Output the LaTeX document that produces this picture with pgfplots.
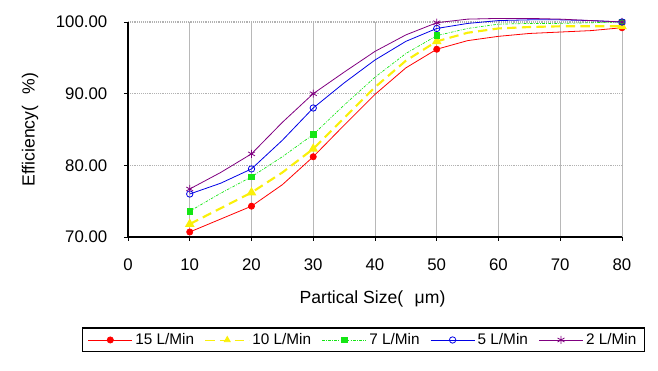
\documentclass[border=0pt]{standalone}
\usepackage{pgfplots}
\pgfplotsset{compat=1.18}
\usepackage{fontspec}
\setmainfont{Liberation Sans}
\definecolor{cred}{RGB}{255,0,0}
\definecolor{cyel}{RGB}{250,240,10}
\definecolor{cgrn}{RGB}{20,230,20}
\definecolor{cblu}{RGB}{0,0,230}
\definecolor{cpur}{RGB}{128,0,128}
\begin{document}
\begin{tikzpicture}
\useasboundingbox (0,0) rectangle (493.5pt,278.25pt);
\begin{axis}[
  scale only axis,
  width=370.5pt, height=161.25pt,
  at={(96pt,100.5pt)}, anchor=south west,
  xmin=0, xmax=80, ymin=70, ymax=100,
  clip=false,
  axis lines*=left,
  axis line style={black, line width=0.9pt},
  xtick={0,10,...,80},
  ytick={70,80,90,100},
  /pgf/number format/assume math mode=true,
  tick label style={font=\fontsize{12.6}{14}\selectfont},
  xticklabel style={yshift=-9.5pt},
  yticklabel style={xshift=-9pt, /pgf/number format/.cd, fixed, fixed zerofill, precision=2},
  label style={font=\fontsize{13.2}{15}\selectfont},
  tick align=outside,
  major tick length=3pt,
  tick style={black, line width=0.6pt},
  xmajorgrids, ymajorgrids,
  x grid style={black!28, line width=0.5pt},
  y grid style={black!30, densely dotted, line width=0.8pt},
  xlabel={Partical Size(\hspace{0.65em}μm)},
  ylabel={Efficiency(\hspace{0.65em}\%)},
  xlabel style={at={(axis description cs:0.495,-0.288)}, anchor=center},
  ylabel style={at={(axis description cs:-0.1984,0.5)}, anchor=center},
  legend columns=5,
  legend style={at={(0.4767,-0.479)}, anchor=center, draw=black, line width=0.9pt,
    font=\fontsize{11.5}{13}\selectfont, inner xsep=4pt, inner ysep=2pt,
    /tikz/every even column/.append style={column sep=6pt}},
  legend image code/.code={\draw[mark indices={2}, line width=0.6pt] plot coordinates {(0pt,0pt) (16.5pt,0pt) (33pt,0pt)};},
  every axis plot/.append style={mark indices={1,3,5,9,15}},
]
\addplot[cred, line width=0.6pt, mark=*, mark size=2.3pt] coordinates {
(10,70.7)(15,72.5)(20,74.3)(25,77.3)(30,81.2)(35,85.6)(40,89.9)(45,93.6)(50,96.2)(55,97.4)(60,98.0)(65,98.4)(70,98.6)(75,98.8)(80,99.2)};
\addlegendentry{15 L/Min}
\addplot[cyel, line width=1.6pt, dash pattern=on 7pt off 4pt, mark=triangle*, mark size=2.6pt, mark options={solid}] coordinates {
(10,71.8)(15,74.0)(20,76.2)(25,79.0)(30,82.3)(35,86.6)(40,90.9)(45,94.6)(50,97.3)(55,98.5)(60,99.1)(65,99.3)(70,99.4)(75,99.4)(80,99.4)};
\addlegendentry{10 L/Min}
\addplot[cgrn, line width=0.5pt, dash pattern=on 2pt off 1pt on 0.6pt off 1pt, mark=square*, mark size=2.1pt, mark options={solid}] coordinates {
(10,73.6)(15,76.1)(20,78.4)(25,81.2)(30,84.3)(35,88.4)(40,92.3)(45,95.6)(50,98.1)(55,99.1)(60,99.7)(65,99.8)(70,99.8)(75,99.9)(80,100.0)};
\addlegendentry{7 L/Min}
\addplot[cblu, line width=0.6pt, mark=o, mark size=2.4pt] coordinates {
(10,76.0)(15,77.5)(20,79.5)(25,83.5)(30,88.0)(35,91.5)(40,94.7)(45,97.3)(50,99.1)(55,99.8)(60,100.2)(65,100.3)(70,100.3)(75,100.2)(80,100.0)};
\addlegendentry{5 L/Min}
\addplot[cpur, line width=0.6pt, mark=asterisk, mark size=3pt] coordinates {
(10,76.7)(15,79.0)(20,81.6)(25,86.0)(30,90.0)(35,93.0)(40,95.9)(45,98.2)(50,99.9)(55,100.4)(60,100.5)(65,100.5)(70,100.4)(75,100.2)(80,100.0)};
\addlegendentry{2 L/Min}
\end{axis}
\end{tikzpicture}
\end{document}
